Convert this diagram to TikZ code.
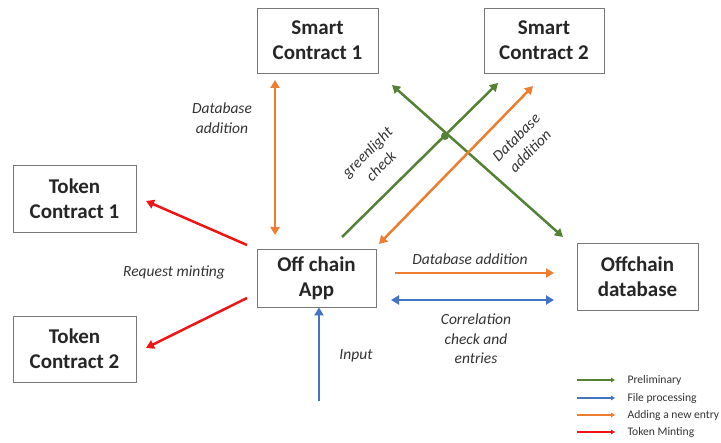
\documentclass[tikz,border=0pt]{standalone}
\usepackage{fontspec}
\setmainfont{Carlito}
\usetikzlibrary{arrows.meta}
\definecolor{cgreen}{RGB}{84,130,53}
\definecolor{cblue}{RGB}{68,114,196}
\definecolor{corange}{RGB}{237,125,49}
\definecolor{cred}{RGB}{240,20,20}
\definecolor{cframe}{RGB}{120,120,120}
\begin{document}
\begin{tikzpicture}[x=1pt,y=-1pt,
  box/.style={draw=cframe, line width=0.9pt, fill=white, align=center, inner sep=0pt,
    font=\fontsize{21}{25}\selectfont\bfseries, text=black!85},
  lbl/.style={font=\fontsize{15.5}{19.5}\selectfont\itshape, align=center, text=black!80},
  leg/.style={font=\fontsize{11.6}{13}\selectfont, anchor=west, text=black!80},
  conn/.style={line width=2.5pt, -{Triangle[length=8pt,width=9pt]}},
  bconn/.style={line width=2.5pt, {Triangle[length=8pt,width=9pt]}-{Triangle[length=8pt,width=9pt]}},
  lconn/.style={line width=1.3pt, -{Triangle[length=4pt,width=4.5pt]}}]
\useasboundingbox (0,0) rectangle (721,443);
% boxes
\node[box, minimum width=121pt, minimum height=65pt] (sc1) at (317.5,40.5) {Smart\\Contract 1};
\node[box, minimum width=120pt, minimum height=65pt] (sc2) at (544,40.5) {Smart\\Contract 2};
\node[box, minimum width=123pt, minimum height=67pt] (tc1) at (74.5,198.5) {Token\\Contract 1};
\node[box, minimum width=123pt, minimum height=66pt] (tc2) at (74.5,349) {Token\\Contract 2};
\node[box, minimum width=119pt, minimum height=58pt] (app) at (316.5,278) {Off chain\\App};
\node[box, minimum width=121pt, minimum height=67pt] (db) at (637.5,276.5) {Offchain\\database};
% coordinates
\coordinate (o1a) at (275,80);
\coordinate (o1b) at (275,235);
\coordinate (g1a) at (342,237);
\coordinate (g1b) at (498,83);
\coordinate (g2a) at (392,85);
\coordinate (g2b) at (563,237);
\coordinate (o2a) at (533,86);
\coordinate (o2b) at (379,244);
\coordinate (r1a) at (247,245);
\coordinate (r1b) at (146,201);
\coordinate (r2a) at (247,298);
\coordinate (r2b) at (146,348);
\coordinate (inp) at (319,401);
\coordinate (o3a) at (395,273);
\coordinate (o3b) at (554,273);
\coordinate (b2a) at (391,300);
\coordinate (b2b) at (554,300);
% connectors
\draw[bconn, corange] (o1a) -- (o1b);
\draw[conn, cgreen] (g1a) -- (g1b);
\draw[bconn, cgreen] (g2a) -- (g2b);
\draw[bconn, corange] (o2a) -- (o2b);
\fill[cgreen] (445,136) circle (4pt);
\draw[conn, cred] (r1a) -- (r1b);
\draw[conn, cred] (r2a) -- (r2b);
\draw[conn, cblue] (inp) -- (app.south -| inp);
\draw[conn, corange] (o3a) -- (o3b);
\draw[bconn, cblue] (b2a) -- (b2b);
% labels
\node[lbl] (l1) at (222,118) {Database\\addition};
\node[lbl, rotate=45] (l2) at (374,159) {greenlight\\check};
\node[lbl, rotate=45] (l3) at (523,144) {Database\\addition};
\node[lbl] (l4) at (174,272) {Request minting};
\node[lbl] (l5) at (356,356) {Input};
\node[lbl] (l6) at (470,259) {Database addition};
\node[lbl] (l7) at (476,339) {Correlation\\check and\\entries};
% legend
\coordinate (la1) at (577,380); \coordinate (lb1) at (615,380);
\coordinate (la2) at (577,398); \coordinate (lb2) at (615,398);
\coordinate (la3) at (577,415); \coordinate (lb3) at (615,415);
\coordinate (la4) at (577,432); \coordinate (lb4) at (615,432);
\draw[lconn, cgreen] (la1) -- (lb1);
\draw[lconn, cblue] (la2) -- (lb2);
\draw[lconn, corange] (la3) -- (lb3);
\draw[lconn, cred] (la4) -- (lb4);
\node[leg] (t1) at (624,380) {Preliminary};
\node[leg] (t2) at (624,398) {File processing};
\node[leg] (t3) at (624,415) {Adding a new entry};
\node[leg] (t4) at (624,432) {Token Minting};
\end{tikzpicture}
\end{document}
